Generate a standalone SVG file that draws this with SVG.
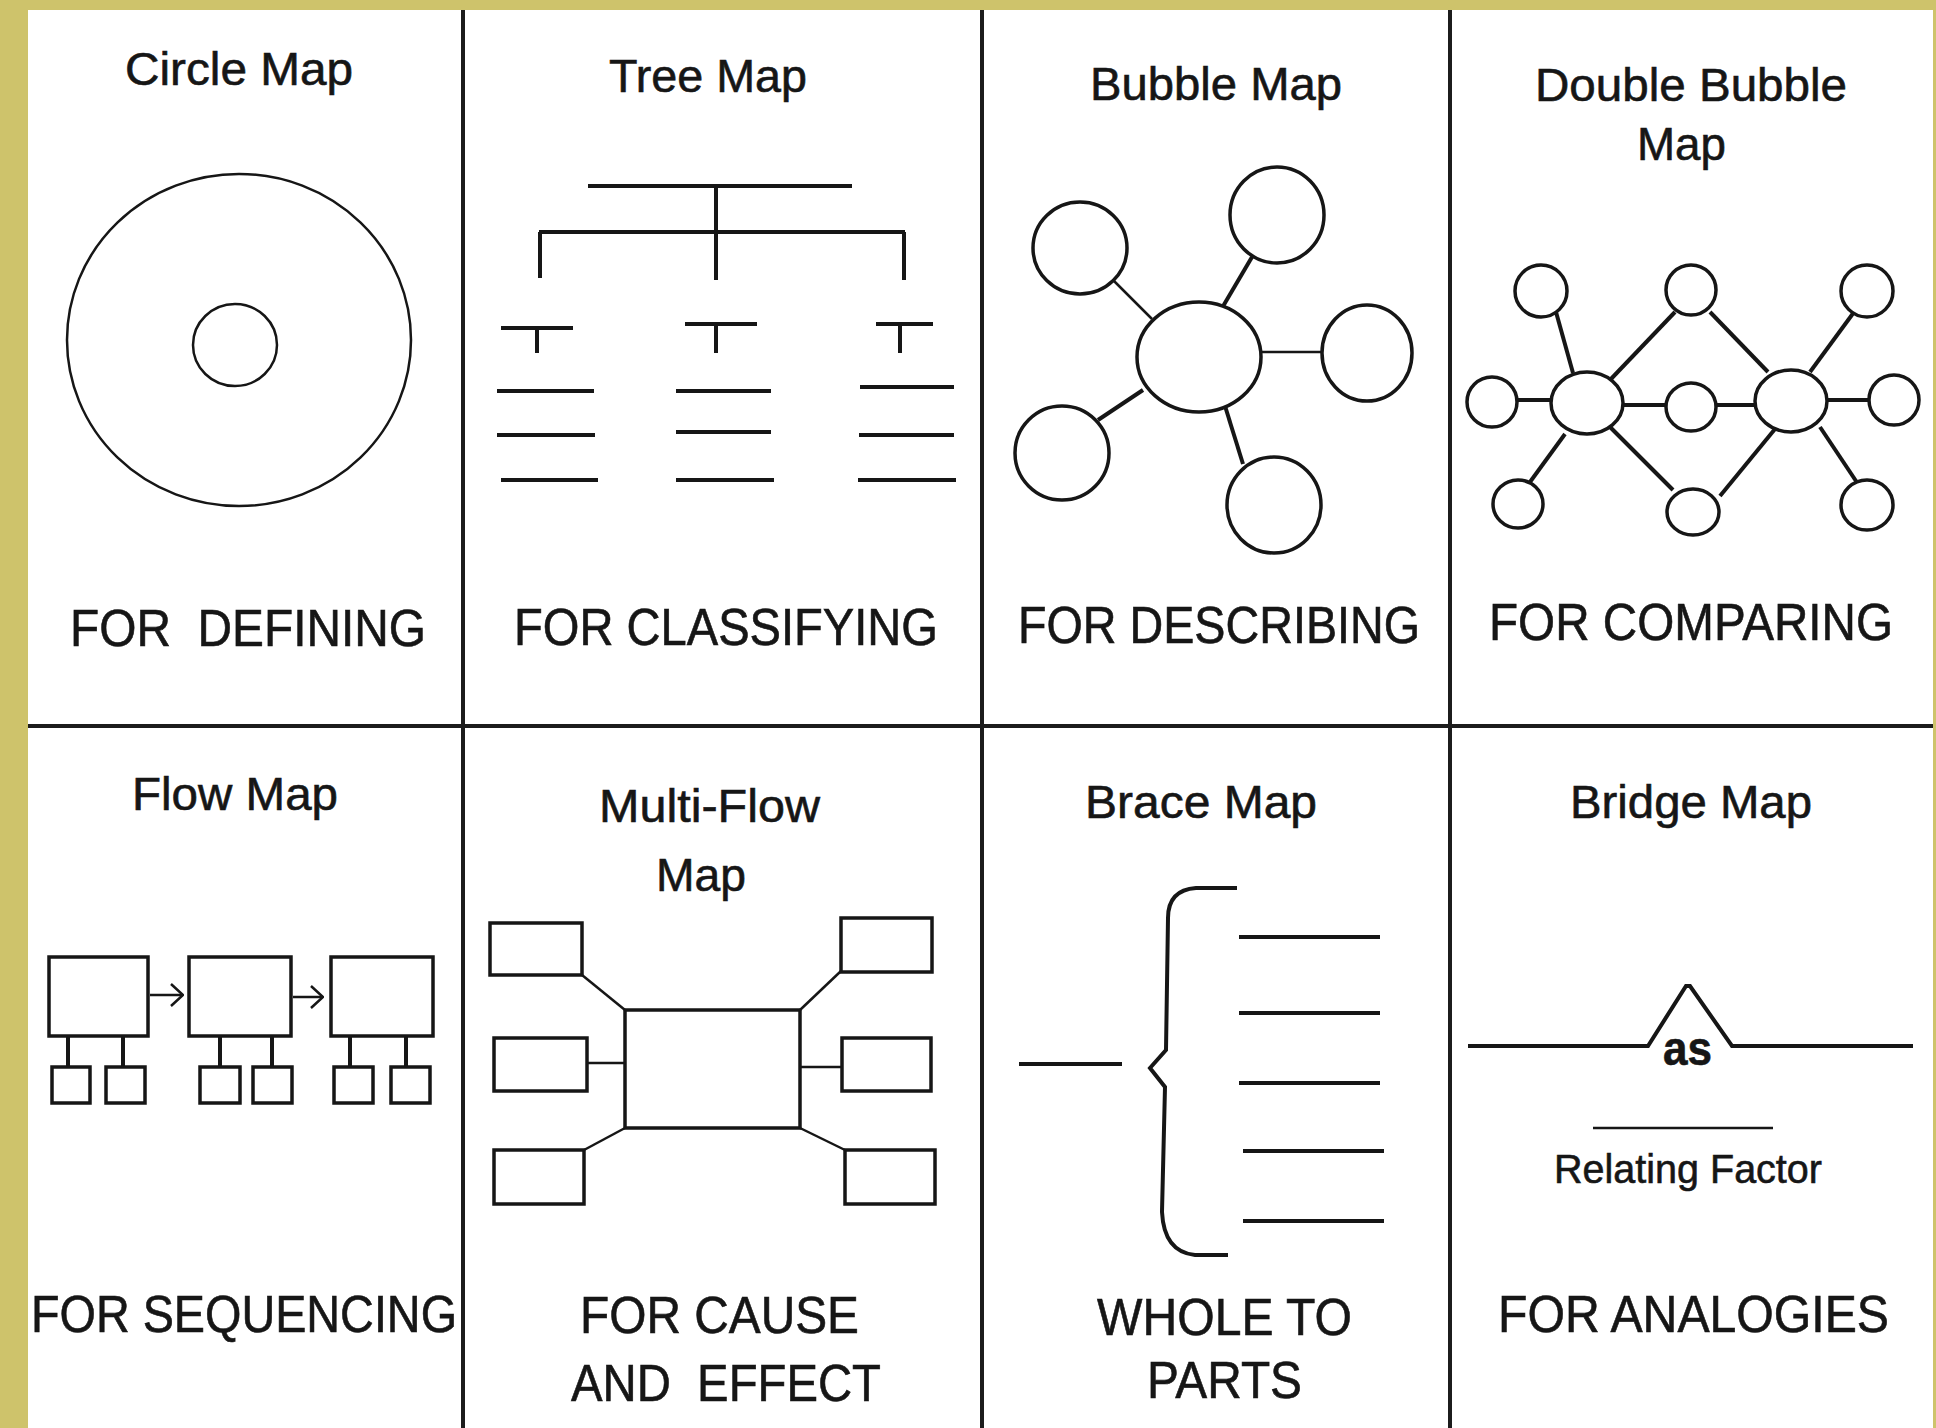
<svg xmlns="http://www.w3.org/2000/svg" width="1936" height="1428" viewBox="0 0 1936 1428">
<style>
 .t{font-family:"Liberation Sans",Arial,sans-serif;fill:#161616;stroke:#161616;stroke-width:0.6}
 .ti{font-size:46px}
 .lb{font-size:51px}
 .ln{fill:none;stroke:#161616;stroke-width:4;stroke-linecap:butt}
 .th{fill:none;stroke:#161616;stroke-width:2.5}
 .sh{fill:#fff;stroke:#161616;stroke-width:3.5}
 .dv{stroke:#1c1c1c;stroke-width:4}
</style>
<defs>
 <marker id="chev" viewBox="0 0 14 24" refX="13" refY="12" markerWidth="14" markerHeight="24" markerUnits="userSpaceOnUse" orient="auto">
  <path d="M1,1 L13,12 L1,23" fill="none" stroke="#161616" stroke-width="2.5"/>
 </marker>
</defs>
<rect width="1936" height="1428" fill="#CEC36B"/>
<rect x="28" y="10" width="1905" height="1418" fill="#fff"/>
<g id="grid">
 <line class="dv" x1="463" y1="10" x2="463" y2="1428"/>
 <line class="dv" x1="982" y1="10" x2="982" y2="1428"/>
 <line class="dv" x1="1450" y1="10" x2="1450" y2="1428"/>
 <line class="dv" x1="28" y1="726" x2="1933" y2="726" stroke-width="5"/>
</g>

<g id="circle-map">
 <text class="t ti" x="125" y="85" textLength="228" lengthAdjust="spacingAndGlyphs">Circle Map</text>
 <ellipse class="th" cx="239" cy="340" rx="172" ry="166"/>
 <ellipse class="th" cx="235" cy="345" rx="42" ry="41" stroke-width="3"/>
 <text class="t lb" x="70" y="646" textLength="356" lengthAdjust="spacingAndGlyphs" xml:space="preserve">FOR  DEFINING</text>
</g>

<g id="tree-map">
 <text class="t ti" x="609" y="92" textLength="198" lengthAdjust="spacingAndGlyphs">Tree Map</text>
 <path class="ln" d="M588,186 H852 M716,186 V280 M539,232 H905 M540,232 V278 M904,232 V280"/>
 <path class="ln" d="M501,328 H573 M537,328 V353 M685,324 H757 M716,324 V353 M876,324 H933 M900,324 V353"/>
 <path class="ln" d="M497,391 H594 M497,435 H595 M501,480 H598 M676,391 H771 M676,432 H771 M676,480 H774 M860,387 H954 M859,435 H954 M858,480 H956"/>
 <text class="t lb" x="514" y="645" textLength="424" lengthAdjust="spacingAndGlyphs">FOR CLASSIFYING</text>
</g>

<g id="bubble-map">
 <text class="t ti" x="1090" y="100" textLength="252" lengthAdjust="spacingAndGlyphs">Bubble Map</text>
 <g id="bubble-connectors">
  <line class="th" x1="1113" y1="280" x2="1152" y2="319"/>
  <line class="ln" x1="1252" y1="257" x2="1222" y2="308"/>
  <line class="th" x1="1262" y1="352" x2="1322" y2="352" stroke-width="3"/>
  <line class="ln" x1="1143" y1="390" x2="1098" y2="420"/>
  <line class="ln" x1="1225" y1="406" x2="1243" y2="464"/>
 </g>
 <ellipse class="sh" cx="1199" cy="357" rx="62" ry="55" stroke-width="4"/>
 <ellipse class="sh" cx="1080" cy="248" rx="47" ry="46"/>
 <ellipse class="sh" cx="1277" cy="215" rx="47" ry="48"/>
 <ellipse class="sh" cx="1367" cy="353" rx="45" ry="48"/>
 <ellipse class="sh" cx="1062" cy="453" rx="47" ry="47"/>
 <ellipse class="sh" cx="1274" cy="505" rx="47" ry="48"/>
 <text class="t lb" x="1018" y="643" textLength="402" lengthAdjust="spacingAndGlyphs">FOR DESCRIBING</text>
</g>

<g id="double-bubble-map">
 <text class="t ti" x="1535" y="101" textLength="312" lengthAdjust="spacingAndGlyphs">Double Bubble</text>
 <text class="t ti" x="1637" y="160" textLength="89" lengthAdjust="spacingAndGlyphs">Map</text>
 <g id="double-bubble-connectors">
  <line class="ln" x1="1556" y1="312" x2="1573" y2="373"/>
  <line class="ln" x1="1517" y1="400" x2="1552" y2="400" stroke-width="5"/>
  <line class="ln" x1="1530" y1="482" x2="1565" y2="434"/>
  <line class="ln" x1="1610" y1="380" x2="1675" y2="312" stroke-width="3"/>
  <line class="ln" x1="1623" y1="405" x2="1666" y2="405" stroke-width="5"/>
  <line class="ln" x1="1610" y1="427" x2="1673" y2="490" stroke-width="3"/>
  <line class="ln" x1="1710" y1="312" x2="1768" y2="372" stroke-width="3"/>
  <line class="ln" x1="1716" y1="405" x2="1755" y2="405" stroke-width="5"/>
  <line class="ln" x1="1720" y1="496" x2="1775" y2="429" stroke-width="3"/>
  <line class="ln" x1="1810" y1="372" x2="1857" y2="308"/>
  <line class="ln" x1="1827" y1="400" x2="1870" y2="400" stroke-width="5"/>
  <line class="ln" x1="1820" y1="427" x2="1858" y2="484"/>
 </g>
 <ellipse class="sh" cx="1587" cy="403" rx="36" ry="31"/>
 <ellipse class="sh" cx="1791" cy="401" rx="36" ry="31"/>
 <ellipse class="sh" cx="1541" cy="291" rx="26" ry="26"/>
 <ellipse class="sh" cx="1691" cy="290" rx="25" ry="25"/>
 <ellipse class="sh" cx="1867" cy="291" rx="26" ry="26"/>
 <ellipse class="sh" cx="1492" cy="402" rx="25" ry="25"/>
 <ellipse class="sh" cx="1691" cy="407" rx="25" ry="24"/>
 <ellipse class="sh" cx="1894" cy="400" rx="25" ry="25"/>
 <ellipse class="sh" cx="1518" cy="504" rx="25" ry="24"/>
 <ellipse class="sh" cx="1693" cy="512" rx="26" ry="23"/>
 <ellipse class="sh" cx="1867" cy="505" rx="26" ry="25"/>
 <text class="t lb" x="1489" y="640" textLength="404" lengthAdjust="spacingAndGlyphs">FOR COMPARING</text>
</g>

<g id="flow-map">
 <text class="t ti" x="132" y="810" textLength="206" lengthAdjust="spacingAndGlyphs">Flow Map</text>
 <g id="flow-connectors">
  <line class="th" x1="150" y1="995" x2="183" y2="995" marker-end="url(#chev)"/>
  <line class="th" x1="293" y1="997" x2="323" y2="997" marker-end="url(#chev)"/>
  <path class="ln" d="M68,1036 V1067 M123,1036 V1067 M220,1036 V1067 M272,1036 V1067 M350,1036 V1067 M406,1036 V1067"/>
 </g>
 <rect class="sh" x="49" y="957" width="99" height="79" stroke-width="4"/>
 <rect class="sh" x="189" y="957" width="102" height="79" stroke-width="4"/>
 <rect class="sh" x="331" y="957" width="102" height="79" stroke-width="4"/>
 <rect class="sh" x="52" y="1067" width="38" height="36" stroke-width="4"/>
 <rect class="sh" x="106" y="1067" width="39" height="36" stroke-width="4"/>
 <rect class="sh" x="200" y="1067" width="40" height="36" stroke-width="4"/>
 <rect class="sh" x="253" y="1067" width="39" height="36" stroke-width="4"/>
 <rect class="sh" x="334" y="1067" width="39" height="36" stroke-width="4"/>
 <rect class="sh" x="391" y="1067" width="39" height="36" stroke-width="4"/>
 <text class="t lb" x="31" y="1332" textLength="426" lengthAdjust="spacingAndGlyphs">FOR SEQUENCING</text>
</g>

<g id="multi-flow-map">
 <text class="t ti" x="599" y="822" textLength="221" lengthAdjust="spacingAndGlyphs">Multi-Flow</text>
 <text class="t ti" x="656" y="891" textLength="90" lengthAdjust="spacingAndGlyphs">Map</text>
 <g id="multi-flow-connectors">
  <line class="th" x1="582" y1="975" x2="625" y2="1010" stroke-width="3"/>
  <line class="th" x1="587" y1="1063" x2="625" y2="1063" stroke-width="3"/>
  <line class="th" x1="584" y1="1150" x2="625" y2="1128" stroke-width="3"/>
  <line class="th" x1="841" y1="971" x2="800" y2="1010" stroke-width="3"/>
  <line class="th" x1="800" y1="1067" x2="842" y2="1067" stroke-width="3"/>
  <line class="th" x1="800" y1="1128" x2="845" y2="1150" stroke-width="3"/>
 </g>
 <rect class="sh" x="625" y="1010" width="175" height="118"/>
 <rect class="sh" x="490" y="923" width="92" height="52" stroke-width="4"/>
 <rect class="sh" x="494" y="1038" width="93" height="53" stroke-width="4"/>
 <rect class="sh" x="494" y="1150" width="90" height="54" stroke-width="4"/>
 <rect class="sh" x="841" y="918" width="91" height="54" stroke-width="4"/>
 <rect class="sh" x="842" y="1038" width="89" height="53" stroke-width="4"/>
 <rect class="sh" x="845" y="1150" width="90" height="54" stroke-width="4"/>
 <text class="t lb" x="580" y="1333" textLength="279" lengthAdjust="spacingAndGlyphs">FOR CAUSE</text>
 <text class="t lb" x="571" y="1401" textLength="310" lengthAdjust="spacingAndGlyphs" xml:space="preserve">AND  EFFECT</text>
</g>

<g id="brace-map">
 <text class="t ti" x="1085" y="818" textLength="232" lengthAdjust="spacingAndGlyphs">Brace Map</text>
 <line class="ln" x1="1019" y1="1064" x2="1122" y2="1064"/>
 <path class="ln" d="M1237,888 L1196,888 Q1168,890 1168,918 L1166,1050 L1150,1068 L1165,1087 L1162,1212 Q1164,1252 1195,1255 L1228,1255" stroke-width="3.5"/>
 <path class="ln" d="M1239,937 H1380 M1239,1013 H1380 M1239,1083 H1380 M1243,1151 H1384 M1243,1221 H1384"/>
 <text class="t lb" x="1097" y="1335" textLength="255" lengthAdjust="spacingAndGlyphs">WHOLE TO</text>
 <text class="t lb" x="1147" y="1398" textLength="155" lengthAdjust="spacingAndGlyphs">PARTS</text>
</g>

<g id="bridge-map">
 <text class="t ti" x="1570" y="818" textLength="242" lengthAdjust="spacingAndGlyphs">Bridge Map</text>
 <path class="ln" d="M1468,1046 H1648 L1686,986 L1690,986 L1732,1046 H1913"/>
 <text class="t" x="1663" y="1065" font-size="48" font-weight="bold" textLength="49" lengthAdjust="spacingAndGlyphs">as</text>
 <line class="th" x1="1593" y1="1128" x2="1773" y2="1128" stroke-width="3"/>
 <text class="t" x="1554" y="1183" font-size="41" stroke-width="1" textLength="268" lengthAdjust="spacingAndGlyphs">Relating Factor</text>
 <text class="t lb" x="1498" y="1332" textLength="391" lengthAdjust="spacingAndGlyphs">FOR ANALOGIES</text>
</g>
</svg>
